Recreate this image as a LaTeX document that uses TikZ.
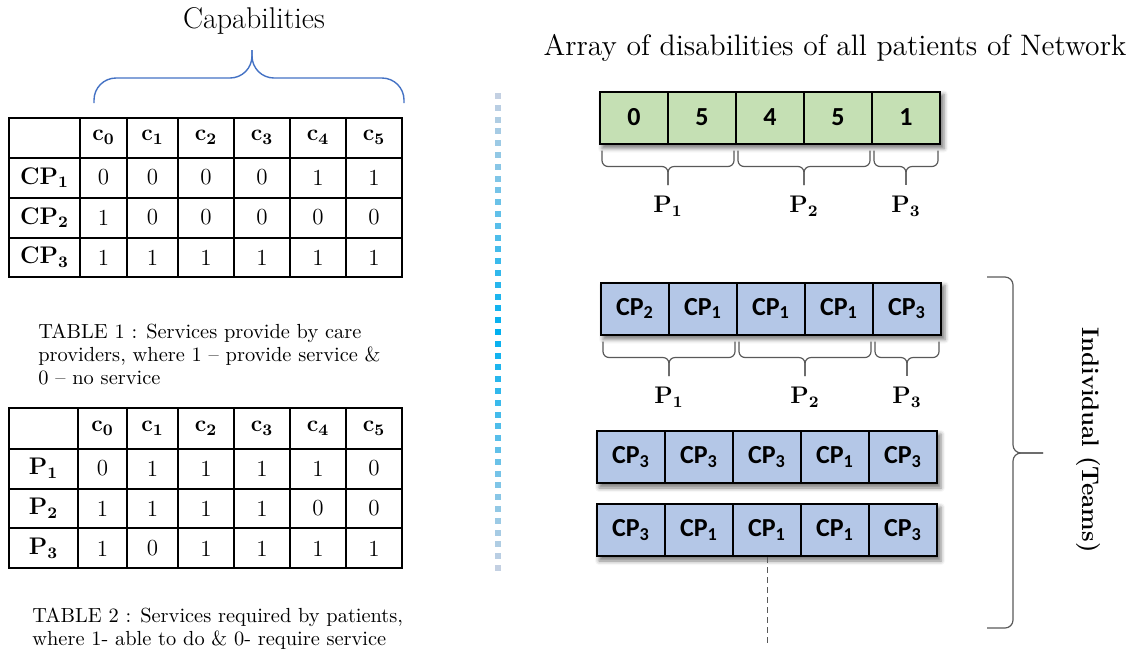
\documentclass[tikz,border=0pt]{standalone}
\usepackage{fontspec}
\newfontfamily\cellfont{Carlito}
\usetikzlibrary{positioning,calc,fit,backgrounds,shadows.blur}

\definecolor{cellgreen}{RGB}{197,224,180}
\definecolor{cellblue}{RGB}{180,199,231}
\definecolor{bracebl}{RGB}{68,114,196}
\definecolor{bracegray}{RGB}{89,89,89}
\definecolor{divend}{RGB}{195,208,226}
\definecolor{divmid}{RGB}{0,176,240}

\tikzset{
  tabline/.style={line width=1pt},
  colhead/.style={font=\fontsize{11.5}{13}\selectfont\bfseries, inner sep=1pt},
  rowhead/.style={font=\fontsize{12}{14}\selectfont\bfseries, inner sep=1pt},
  tabval/.style={font=\fontsize{11.5}{13}\selectfont, inner sep=1pt},
  caption/.style={font=\fontsize{10.2}{11.5}\selectfont, align=left, inner sep=0pt, anchor=north west},
  arrcell/.style={draw, line width=1pt, minimum width=34pt, minimum height=26pt, inner sep=0pt,
    font=\cellfont\fontsize{13}{15}\selectfont\bfseries},
  gcell/.style={arrcell, fill=cellgreen},
  bcell/.style={arrcell, fill=cellblue},
  rowshadow/.style={inner sep=0pt, fill=white,
    blur shadow={shadow xshift=1.5pt, shadow yshift=-2pt, shadow blur radius=2pt, shadow opacity=50}},
  grpbrace/.style={draw=bracegray, line width=0.6pt, rounded corners=3pt, shorten >=3pt},
  plab/.style={font=\fontsize{12}{14}\selectfont\bfseries, inner sep=2.5pt},
  capbrace/.style={draw=bracebl, line width=0.7pt, rounded corners=11pt},
  bigbrace/.style={draw=bracegray, line width=0.6pt, rounded corners=4pt},
  tail/.style={draw=bracegray, line width=0.5pt, densely dashed},
}

% brace under a group of cells: first cell, last cell, label
\newcommand{\grpbrace}[3]{%
  \draw[grpbrace] ([xshift=1.5pt,yshift=-3pt]#1.south west) -- ++(0,-8pt) -| (#3.north);
  \draw[grpbrace] ([xshift=-1.5pt,yshift=-3pt]#2.south east) -- ++(0,-8pt) -| (#3.north);}

\begin{document}
\begin{tikzpicture}[x=0.5pt,y=-0.5pt]
  \useasboundingbox (0,0) rectangle (1139,655);

  % capabilities
  \node[font=\fontsize{15}{17}\selectfont, anchor=base] (capt) at (254,28) {Capabilities};
  \draw[capbrace] (94,103) -- (94,78) -- (252,78) -- (252,50);
  \draw[capbrace] (404,103) -- (404,78) -- (252,78) -- (252,50);

  % table 1
  \draw[tabline] (9,118) rectangle (402,277);
  \foreach \x in {80,127,178,234,290,346} \draw[tabline] (\x,118) -- (\x,277);
  \foreach \y in {158,198,238} \draw[tabline] (9,\y) -- (402,\y);
  \foreach \x [count=\c from 0] in {103.5,152.5,206,262,318,374}
    \node[colhead] (ta-0-\c) at (\x,137.5) {c\textsubscript{\c}};
  \foreach \lab/\vals [count=\r] in {1/{0,0,0,0,1,1},2/{1,0,0,0,0,0},3/{1,1,1,1,1,1}} {
    \node[rowhead] (ta-\r-l) at (44.5,{137.5+40*\r}) {CP\textsubscript{\lab}};
    \foreach \v [count=\c from 0] in \vals
      \node[tabval] (ta-\r-\c) at (ta-0-\c |- ta-\r-l) {\v};
  }
  \node[caption] (capa) at (38,323) {TABLE 1 : Services provide by care\\providers, where 1 – provide service \&\\0 – no service};

  % table 2
  \draw[tabline] (9,408) rectangle (402,568);
  \foreach \x in {78,127,178,234,290,346} \draw[tabline] (\x,408) -- (\x,568);
  \foreach \y in {449,489,528} \draw[tabline] (9,\y) -- (402,\y);
  \foreach \x [count=\c from 0] in {102.5,152.5,206,262,318,374}
    \node[colhead] (tb-0-\c) at (\x,428.5) {c\textsubscript{\c}};
  \foreach \lab/\vals [count=\r] in {1/{0,1,1,1,1,0},2/{1,1,1,1,0,0},3/{1,0,1,1,1,1}} {
    \node[rowhead] (tb-\r-l) at (43.5,{428.5+40*\r}) {P\textsubscript{\lab}};
    \foreach \v [count=\c from 0] in \vals
      \node[tabval] (tb-\r-\c) at (tb-0-\c |- tb-\r-l) {\v};
  }
  \node[caption] (capb) at (32,607) {TABLE 2 : Services required by patients,\\where 1- able to do \& 0- require service};

  % divider
  \foreach \k in {0,...,40} {
    \pgfmathtruncatemacro\m{100-100*abs(\k-20)/20}
    \fill[divmid!\m!divend] (495,{93+11.8*\k}) rectangle ++(6,6);
  }

  % array of disabilities
  \node[font=\fontsize{14.8}{17}\selectfont, anchor=base] (arrt) at (835,55) {Array of disabilities of all patients of Network};
  \foreach \v [count=\i] in {0,5,4,5,1}
    \node[gcell] (g\i) at ({634+68*(\i-1)},117.5) {\v};
  \node[plab] (gp1) at ($(g1.south west)!.5!(g2.south east)+(0,-31pt)$) {P\textsubscript{1}};
  \node[plab] (gp2) at ($(g3.south west)!.5!(g4.south east)+(0,-31pt)$) {P\textsubscript{2}};
  \node[plab] (gp3) at ($(g5.south west)!.5!(g5.south east)+(0,-31pt)$) {P\textsubscript{3}};
  \grpbrace{g1}{g2}{gp1}
  \grpbrace{g3}{g4}{gp2}
  \grpbrace{g5}{g5}{gp3}

  % teams
  \foreach \v [count=\i] in {2,1,1,1,3}
    \node[bcell] (ba\i) at ({635+68*(\i-1)},308.5) {CP\textsubscript{\v}};
  \node[plab] (bp1) at ($(ba1.south west)!.5!(ba2.south east)+(0,-31pt)$) {P\textsubscript{1}};
  \node[plab] (bp2) at ($(ba3.south west)!.5!(ba4.south east)+(0,-31pt)$) {P\textsubscript{2}};
  \node[plab] (bp3) at ($(ba5.south west)!.5!(ba5.south east)+(0,-31pt)$) {P\textsubscript{3}};
  \grpbrace{ba1}{ba2}{bp1}
  \grpbrace{ba3}{ba4}{bp2}
  \grpbrace{ba5}{ba5}{bp3}
  \foreach \v [count=\i] in {3,3,3,1,3}
    \node[bcell] (bb\i) at ({631+68*(\i-1)},457) {CP\textsubscript{\v}};
  \foreach \v [count=\i] in {3,1,1,1,3}
    \node[bcell] (bc\i) at ({631+68*(\i-1)},530) {CP\textsubscript{\v}};
  \coordinate (tailend) at (767,645);
  \draw[tail] (bc3.south) -- (tailend);

  \begin{scope}[on background layer]
    \node[rowshadow, fit=(g1)(g5)] (gsh) {};
    \node[rowshadow, fit=(ba1)(ba5)] (bash) {};
    \node[rowshadow, fit=(bb1)(bb5)] (bbsh) {};
    \node[rowshadow, fit=(bc1)(bc5)] (bcsh) {};
  \end{scope}

  % individual (teams)
  \draw[bigbrace] (987,277) -- (1013,277) -- (1013,453) -- (1043,453);
  \draw[bigbrace] (987,628) -- (1013,628) -- (1013,453) -- (1043,453);
  \node[font=\fontsize{12}{14}\selectfont\bfseries, rotate=-90] (indiv) at (1088,440) {Individual (Teams)};
\end{tikzpicture}
\end{document}
